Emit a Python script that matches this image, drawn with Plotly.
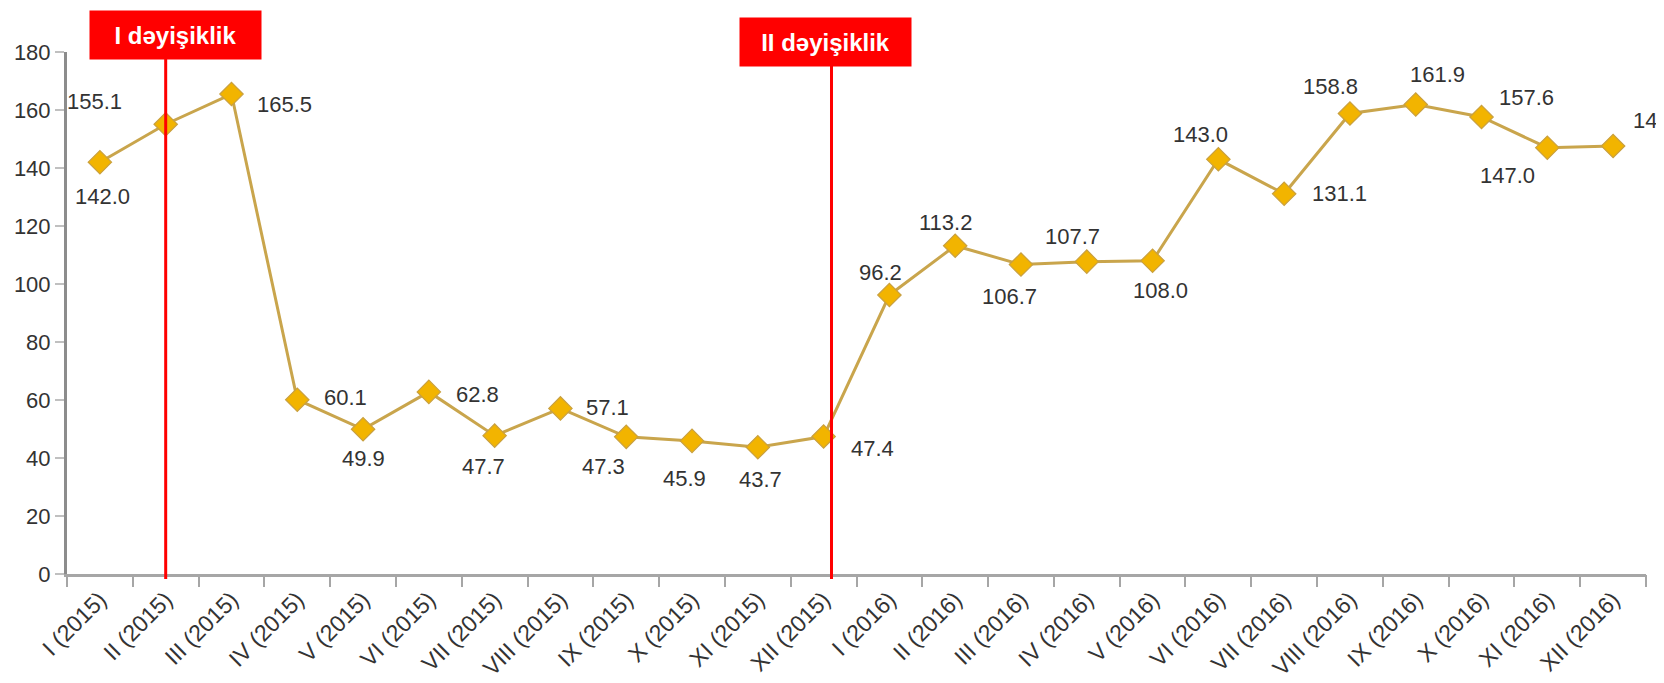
import plotly.graph_objects as go

months = ["I", "II", "III", "IV", "V", "VI", "VII", "VIII", "IX", "X", "XI", "XII"]
years = ["2015", "2016"]
categories = [f"{m} ({y})" for y in years for m in months]

values = [142.0, 155.1, 165.5, 60.1, 49.9, 62.8, 47.7, 57.1, 47.3, 45.9, 43.7, 47.4,
          96.2, 113.2, 106.7, 107.7, 108.0, 143.0, 131.1, 158.8, 161.9, 157.6, 147.0, 147.6]

# label offsets in pixels (dx right, dy down) relative to each point
label_dx = [3, -71, 53, 48, 0, 49, -11, 47, -23, -8, 3, 49,
            -9, -10, -11, -14, 8, -18, 55, -19, 22, 45, -40, 47]
label_dy = [34, -23, 10, -2, 29, 3, 31, -1, 30, 38, 32, 12,
            -23, -23, 32, -25, 30, -25, 0, -27, -30, -19, 28, -25]

change_labels = ["I dəyişiklik", "II dəyişiklik"]
change_pos = [1.0, 11.12]   # category index positions of the red lines

# page body has an 8px margin: figure sized to fit the 1664x683 window
OFF = 8
W, H = 1664 - OFF, 683 - OFF
ML, MR, MT, MB = 67 - OFF, 18, 52 - OFF, 109
xmin, xmax = -0.5, len(categories) - 0.5
ymin, ymax = 0, 180
plot_h = H - MT - MB

font_family = "Liberation Sans, Arial, sans-serif"

fig = go.Figure()
fig.add_trace(go.Scatter(
    x=list(range(len(categories))), y=values, mode="lines+markers",
    line=dict(color="#C9A54C", width=3),
    marker=dict(symbol="diamond", size=18, color="#F2B400",
                line=dict(color="#C9A040", width=1.2)),
    hoverinfo="skip", showlegend=False, cliponaxis=False,
))

annotations = []
for i, v in enumerate(values):
    annotations.append(dict(
        x=i, y=v, xref="x", yref="y", text=f"{v:.1f}", showarrow=False,
        xshift=label_dx[i], yshift=-label_dy[i],
        font=dict(family=font_family, size=22, color="#333333"),
    ))

box_dx = [10, -5.5]
box_top = [11 - OFF, 18 - OFF]
box_h = 48
box_w = [171, 171]
shapes = []
for k, (lab, pos) in enumerate(zip(change_labels, change_pos)):
    xp = (pos - xmin) / (xmax - xmin)
    bottom_px = box_top[k] + box_h
    y1 = (H - MB - bottom_px) / plot_h
    shapes.append(dict(type="line", xref="paper", yref="paper",
                       x0=xp, x1=xp, y0=-5 / plot_h, y1=y1,
                       line=dict(color="#FF0000", width=3)))
    yc = (H - MB - (box_top[k] + box_h / 2)) / plot_h
    annotations.append(dict(
        x=xp, y=yc, xref="paper", yref="paper", xshift=box_dx[k],
        text=f"<b>{lab}</b>", showarrow=False, xanchor="center", yanchor="middle",
        width=box_w[k], height=box_h, borderpad=0, bgcolor="#FF0000",
        font=dict(family=font_family, size=24, color="#FFFFFF"),
    ))

fig.update_layout(
    width=W, height=H,
    margin=dict(l=ML, r=MR, t=MT, b=MB, pad=0, autoexpand=False),
    paper_bgcolor="white", plot_bgcolor="white",
    shapes=shapes, annotations=annotations,
    xaxis=dict(
        range=[xmin, xmax], tickmode="array", automargin=False,
        tickvals=list(range(len(categories))), ticktext=categories,
        tickangle=-45, showgrid=False, zeroline=False,
        showline=True, linecolor="#A6A6A6", linewidth=3,
        ticks="", tickfont=dict(family=font_family, size=23, color="#333333"),
    ),
    xaxis2=dict(
        overlaying="x", range=[xmin, xmax], tickmode="array", automargin=False,
        tickvals=[i - 0.5 for i in range(len(categories) + 1)],
        ticktext=[""] * (len(categories) + 1),
        ticks="outside", ticklen=12, tickcolor="#A6A6A6", tickwidth=2,
        showgrid=False, zeroline=False, showline=False, side="bottom",
        anchor="y",
    ),
    yaxis=dict(
        range=[ymin, ymax], dtick=20, showgrid=False, zeroline=False, automargin=False,
        showline=True, linecolor="#8C8C8C", linewidth=3,
        ticks="outside", ticklen=9, tickcolor="#C0C0C0", tickwidth=2,
        tickfont=dict(family=font_family, size=22, color="#333333"),
    ),
)
fig.add_trace(go.Scatter(x=[xmin], y=[None], xaxis="x2", showlegend=False, hoverinfo="skip"))

fig.write_html("out.html")
